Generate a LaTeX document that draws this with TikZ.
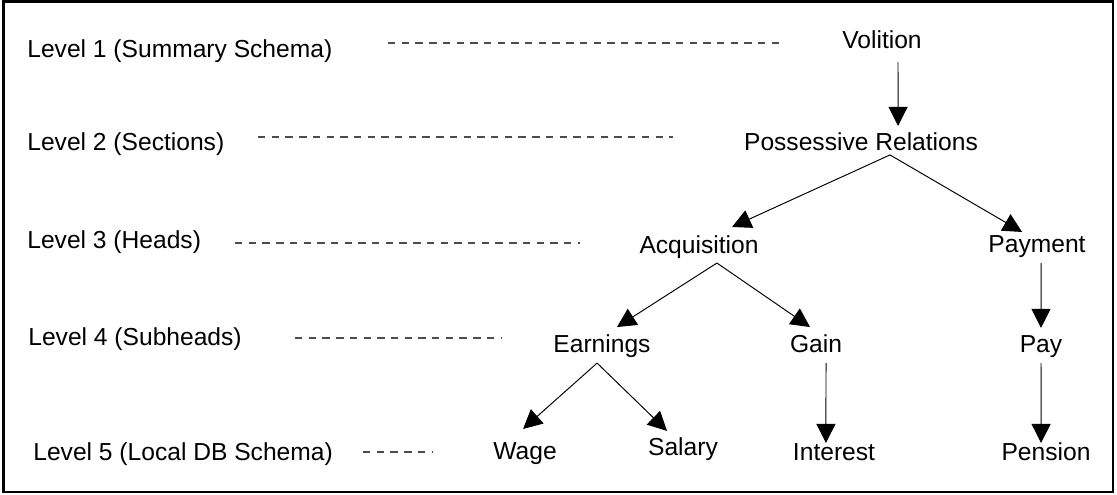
\documentclass[tikz,border=0pt]{standalone}
\usepackage{fontspec}
\setmainfont{Liberation Sans}
\usetikzlibrary{arrows.meta}

\begin{document}
\begin{tikzpicture}[x=0.2cm, y=0.2cm,
  arr/.style={draw=black, line width=0.55pt, -{Triangle[length=10.8pt,width=10.8pt]}},
  guide/.style={draw=black!70, line width=0.6pt, dash pattern=on 4.2pt off 3.6pt}]
\tikzstyle{every node}+=[inner sep=0pt, anchor=base, font=\fontsize{14}{16}\selectfont]
\useasboundingbox (0,0) rectangle (111.7,-49.4);
\draw [black, line width=1.2pt] (0.35,-0.15) rectangle (111.3,-49.2);
% level labels
\node [anchor=base west] (lv1) at (2.7,-5.7) {Level 1 (Summary Schema)};
\node [anchor=base west] (lv2) at (2.7,-15.0) {Level 2 (Sections)};
\node [anchor=base west] (lv3) at (2.7,-24.8) {Level 3 (Heads)};
\node [anchor=base west] (lv4) at (2.8,-34.5) {Level 4 (Subheads)};
\node [anchor=base west] (lv5) at (3.3,-46.0) {Level 5 (Local DB Schema)};
\foreach \a/\b/\y in {38.8/78.2/4.3, 25.8/67.3/13.7, 23.5/58.0/24.3, 29.5/50.2/33.8, 36.3/43.3/45.2}
  \draw [guide] (\a,-\y) -- (\b,-\y);
% hierarchy
\node (volition) at (88.2,-4.8) {Volition};
\node (possrel) at (86.1,-15.0) {Possessive Relations};
\node (acquis) at (69.9,-25.3) {Acquisition};
\node (payment) at (103.7,-25.2) {Payment};
\node (earnings) at (60.2,-35.2) {Earnings};
\node (gain) at (81.6,-35.2) {Gain};
\node (pay) at (104.1,-35.2) {Pay};
\node (wage) at (52.5,-45.9) {Wage};
\node (salary) at (68.3,-45.5) {Salary};
\node (interest) at (83.4,-46.0) {Interest};
\node (pension) at (104.6,-46.0) {Pension};
\draw [arr] ([xshift=9.1pt,yshift=-8pt]volition.base) -- ([xshift=21.1pt,yshift=13.7pt]possrel.base);
\draw [arr] ([xshift=16.5pt,yshift=-2.8pt]possrel.base) -- ([xshift=18.8pt,yshift=14.8pt]acquis.base);
\draw [arr] ([xshift=16.5pt,yshift=-2.8pt]possrel.base) -- ([xshift=-8.5pt,yshift=11.4pt]payment.base);
\draw [arr] ([xshift=10.2pt,yshift=-5.7pt]acquis.base) -- ([xshift=8.5pt,yshift=14.2pt]earnings.base);
\draw [arr] ([xshift=10.2pt,yshift=-5.7pt]acquis.base) -- ([xshift=-3.4pt,yshift=14.2pt]gain.base);
\draw [arr] ([xshift=2.3pt,yshift=-6.3pt]payment.base) -- ([xshift=0pt,yshift=13.7pt]pay.base);
\draw [arr] ([xshift=-2.8pt,yshift=-6.3pt]earnings.base) -- ([xshift=-1.1pt,yshift=17.1pt]wage.base);
\draw [arr] ([xshift=-2.8pt,yshift=-6.3pt]earnings.base) -- ([xshift=-9.1pt,yshift=13.7pt]salary.base);
\draw [arr] ([xshift=5.7pt,yshift=-6.3pt]gain.base) -- ([xshift=-4.6pt,yshift=9.7pt]interest.base);
\draw [arr] ([yshift=-6.3pt]pay.base) -- ([xshift=-2.8pt,yshift=9.7pt]pension.base);
\end{tikzpicture}
\end{document}
